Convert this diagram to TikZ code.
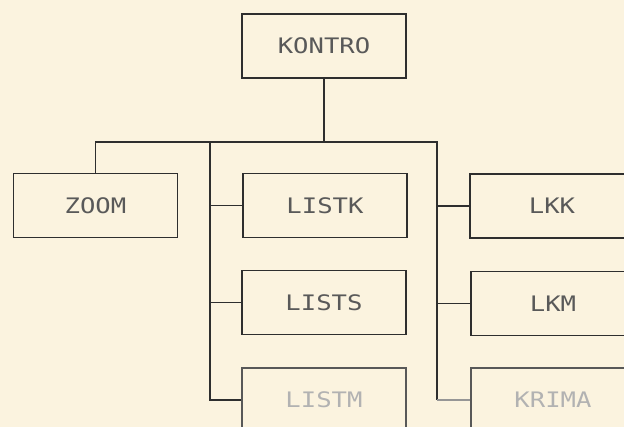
\documentclass[tikz,border=0pt]{standalone}
\usepackage{fontspec}
\setmonofont{DejaVu Sans Mono}
\usepackage{graphicx}
\definecolor{papier}{HTML}{FBF3DF}
\definecolor{tinte}{HTML}{2E2E2E}
\newcommand{\modname}[1]{\scalebox{1.2}[1]{\ttfamily\fontsize{16}{18}\selectfont #1}}
\begin{document}
\begin{tikzpicture}[x=0.75pt, y=-0.75pt,
    modul/.style={draw=tinte, line width=0.9pt, minimum width=123pt, minimum height=48pt,
                  inner sep=0pt, text=black!65},
    blass/.style={modul, draw=tinte!80, text=black!30},
    leitung/.style={draw=tinte, line width=0.9pt}]
    \fill[papier] (0,0) rectangle (624,427);
    \clip (0,0) rectangle (624,427);
    
    % Hauptmodul
    \node[modul] (kontro) at (324,46) {\modname{KONTRO}};
    
    % Module der zweiten Ebene
    \node[modul] (zoom) at (95.5,205.5) {\modname{ZOOM}};
    \node[modul] (listk) at (325,205.5) {\modname{LISTK}};
    \node[modul] (lists) at (324,302.5) {\modname{LISTS}};
    \node[blass] (listm) at (324,400) {\modname{LISTM}};
    \node[modul] (lkk) at (552,206) {\modname{LKK}};
    \node[modul] (lkm) at (553,303.5) {\modname{LKM}};
    \node[blass] (krima) at (553,400) {\modname{KRIMA}};
    
    % Verbindungen
    \coordinate (tl) at (210,142);
    \coordinate (tr) at (437,142);
    \draw[leitung] (kontro.south) -- (kontro.south |- tl);
    \draw[leitung] (zoom.north) |- (tr) -- (tr |- krima.west);
    \draw[leitung] (tl) |- (listm.west);
    \draw[leitung] (tl |- listk.west) -- (listk.west);
    \draw[leitung] (tl |- lists.west) -- (lists.west);
    \draw[leitung] (tr |- lkk.west) -- (lkk.west);
    \draw[leitung] (tr |- lkm.west) -- (lkm.west);
    \draw[leitung, draw=tinte!50] (tr |- krima.west) -- (krima.west);
\end{tikzpicture}
\end{document}
